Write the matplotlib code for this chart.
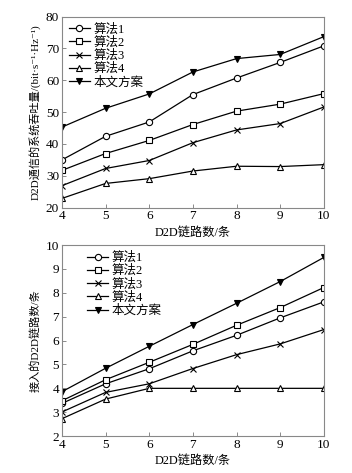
import matplotlib
matplotlib.use('Agg')
import matplotlib.pyplot as plt

plt.rcParams['font.family'] = ['Liberation Serif', 'Noto Sans CJK SC', 'DejaVu Serif']

links = [4, 5, 6, 7, 8, 9, 10]
names = ['算法1', '算法2', '算法3', '算法4', '本文方案']

# throughput (bit/s/Hz)
thr_alg1 = [35.0, 42.4, 46.9, 55.5, 60.7, 65.6, 70.8]
thr_alg2 = [31.7, 37.0, 41.1, 46.1, 50.3, 52.5, 55.8]
thr_alg3 = [26.9, 32.3, 34.8, 40.4, 44.4, 46.4, 51.6]
thr_alg4 = [22.9, 27.6, 29.1, 31.5, 33.0, 32.9, 33.5]
thr_ours = [45.3, 51.2, 55.7, 62.6, 66.8, 68.1, 73.7]

# accessed D2D links
acc_alg1 = [3.37, 4.19, 4.82, 5.57, 6.22, 6.95, 7.62]
acc_alg2 = [3.48, 4.36, 5.09, 5.84, 6.64, 7.38, 8.22]
acc_alg3 = [3.01, 3.83, 4.19, 4.83, 5.41, 5.86, 6.46]
acc_alg4 = [2.73, 3.55, 4.0, 4.0, 4.0, 4.0, 4.0]
acc_ours = [3.86, 4.84, 5.76, 6.67, 7.56, 8.47, 9.48]

markers = [dict(marker='o', mfc='white'),
           dict(marker='s', mfc='white'),
           dict(marker='x'),
           dict(marker='^', mfc='white'),
           dict(marker='v', mfc='black')]

fig = plt.figure(figsize=(3.52, 4.73), dpi=100)
ax1 = fig.add_axes([0.176, 0.561, 0.744, 0.404])
ax2 = fig.add_axes([0.176, 0.078, 0.744, 0.404])

def draw(ax, series, ylim, yticks, ylabel, legend_x):
    for ys, name, mk in zip(series, names, markers):
        ax.plot(links, ys, color='black', lw=0.9, ms=4.5, mew=0.8,
                mec='black', label=name, **mk)
    ax.set_xlim(4, 10)
    ax.set_ylim(*ylim)
    ax.set_xticks(links)
    ax.set_yticks(yticks)
    ax.tick_params(direction='in', labelsize=9.5, length=3, width=0.6,
                   color='#777777', pad=2)
    for s in ax.spines.values():
        s.set_color('#888888')
        s.set_linewidth(0.8)
    ax.set_xlabel('D2D链路数/条', fontsize=8.8, labelpad=3)
    ax.set_ylabel(ylabel, fontsize=8, labelpad=4)
    ax.legend(loc='upper left', bbox_to_anchor=(legend_x, 1.0), frameon=False,
              fontsize=9, handlelength=1.7, handletextpad=0.25,
              labelspacing=0.08, borderaxespad=0.15)

draw(ax1, [thr_alg1, thr_alg2, thr_alg3, thr_alg4, thr_ours], (20, 80),
     range(20, 81, 10), 'D2D通信的系统吞吐量/(bit·s⁻¹·Hz⁻¹)', 0.0)
draw(ax2, [acc_alg1, acc_alg2, acc_alg3, acc_alg4, acc_ours], (2, 10),
     range(2, 11), '接入的D2D链路数/条', 0.07)

fig.savefig('out.png', dpi=100)
